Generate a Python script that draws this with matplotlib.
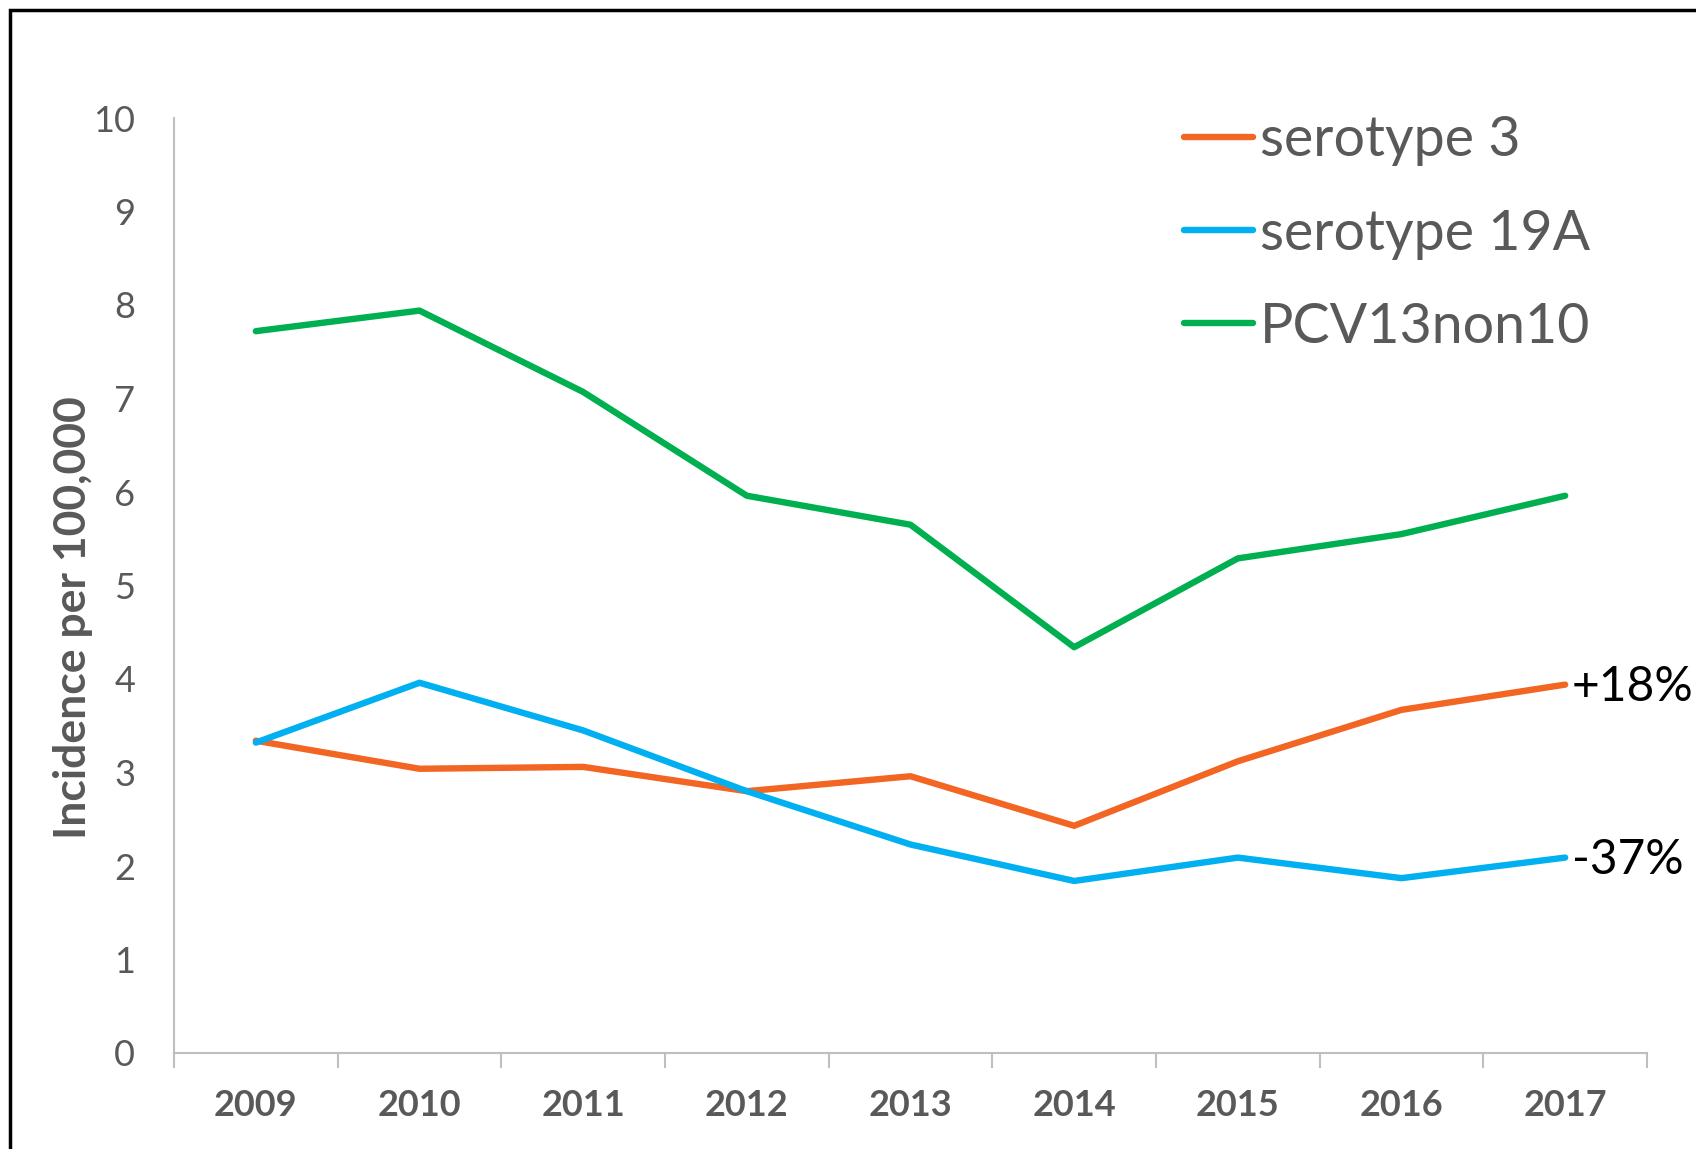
import matplotlib
matplotlib.use("Agg")
import matplotlib.pyplot as plt
from matplotlib.patches import Rectangle
from matplotlib.ticker import FixedLocator

years = ["2009", "2010", "2011", "2012", "2013", "2014", "2015", "2016", "2017"]
serotype3 = [3.34, 3.04, 3.06, 2.80, 2.96, 2.43, 3.12, 3.67, 3.94]
serotype19A = [3.32, 3.96, 3.45, 2.80, 2.23, 1.84, 2.09, 1.87, 2.09]
pcv13non10 = [7.72, 7.94, 7.07, 5.96, 5.65, 4.34, 5.29, 5.55, 5.96]
series_names = ["serotype 3", "serotype 19A", "PCV13non10"]
changes = ["+18%", "-37%"]
yticks = list(range(0, 11))

FONT = ["Lato", "DejaVu Sans"]
plt.rcParams['font.family'] = FONT
GRAY = "#595959"
colors = ["#F26522", "#00B0F0", "#00B050"]

W, H = 1696, 1149
fig = plt.figure(figsize=(W / 100, H / 100), dpi=100)
ax = fig.add_axes([174 / W, 1 - 1053 / H, (1647 - 174) / W, (1053 - 118) / H])

# border
fig.patches.append(Rectangle((10 / W, -0.05), 1.1, 1 - 10 / H + 0.05,
                             transform=fig.transFigure, fill=False,
                             edgecolor="black", linewidth=2.5, zorder=0))

x = list(range(len(years)))
lines = []
for vals, c, name in zip([serotype3, serotype19A, pcv13non10], colors, series_names):
    ln, = ax.plot(x, vals, color=c, linewidth=4.6, label=name,
                  solid_capstyle="round", solid_joinstyle="round")
    lines.append(ln)

ax.set_xlim(-0.5, len(years) - 0.5)
ax.set_ylim(0, 10)

for s in ["top", "right"]:
    ax.spines[s].set_visible(False)
for s in ["left", "bottom"]:
    ax.spines[s].set_color("#BFBFBF")
    ax.spines[s].set_linewidth(1.5)

ax.set_yticks(yticks)
ax.set_yticklabels([str(v) for v in yticks])
ax.tick_params(axis="y", length=0, pad=28, labelsize=26, labelcolor=GRAY)

ax.set_xticks(x)
ax.set_xticklabels(years, fontweight="bold")
ax.tick_params(axis="x", which="major", length=0, pad=26, labelsize=26, labelcolor=GRAY)
ax.xaxis.set_minor_locator(FixedLocator([i - 0.5 for i in range(len(years) + 1)]))
ax.tick_params(axis="x", which="minor", length=11, width=1.5, color="#BFBFBF")

fig.text(73 / W, 1 - 618 / H, "Incidence per 100,000", rotation=90,
         ha="center", va="center", fontsize=32, fontweight="bold", color=GRAY)

leg = ax.legend(handles=lines, loc="center left", bbox_to_anchor=(1184 / W, 1 - 234 / H),
                bbox_transform=fig.transFigure, frameon=False, fontsize=40,
                handlelength=1.25, handletextpad=0.12, labelspacing=0.76,
                borderpad=0, borderaxespad=0)
for t in leg.get_texts():
    t.set_color(GRAY)

for vals, txt in zip([serotype3, serotype19A], changes):
    ax.annotate(txt, xy=(len(years) - 1, vals[-1]), xytext=(5, -2),
                textcoords="offset points", ha="left", va="center",
                fontsize=34.5, color="black", annotation_clip=False)

fig.savefig("out.png", dpi=100)
